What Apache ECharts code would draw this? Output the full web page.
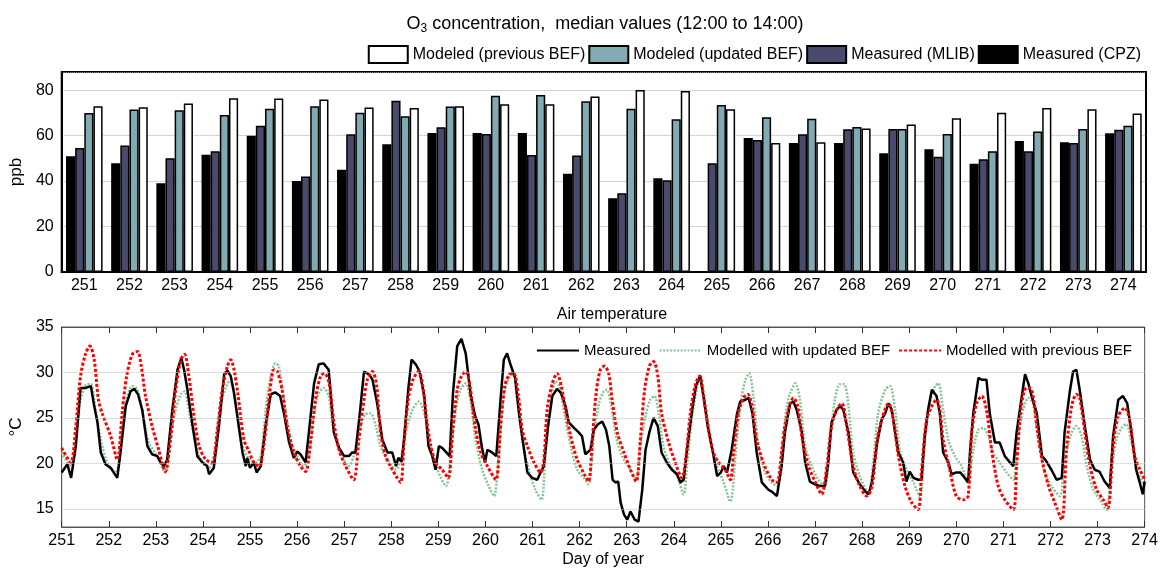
<!DOCTYPE html>
<html><head><meta charset="utf-8">
<script src="https://cdn.jsdelivr.net/npm/echarts@6/dist/echarts.min.js"></script>
<style>html,body{margin:0;padding:0;background:#fff}#c{width:1161px;height:569px}</style>
</head><body><div id="c"></div>
<script>
const days = ['251','252','253','254','255','256','257','258','259','260','261','262','263','264','265','266','267','268','269','270','271','272','273','274'];
const cpz = [50.9,47.9,39,51.6,60,40,45,56.2,61.2,61.2,61.2,43.2,32.5,41.2,null,59,56.8,56.8,52.2,54,47.6,57.6,57.1,61];
const mlib = [54.6,55.7,50.1,53.1,64.4,42,60.6,75.3,63.7,60.7,51.5,51.3,34.6,40.4,47.9,58.1,60.6,62.8,62.9,50.7,49.6,53.1,56.8,62.6];
const updatedBEF = [70,71.5,71.2,69.1,71.8,72.9,70.1,68.5,72.8,77.6,77.9,75.1,71.8,67.2,73.5,68.1,67.4,63.8,62.9,60.7,53.1,61.8,62.9,64.4];
const previousBEF = [72.9,72.5,74.1,76.5,76.3,75.9,72.4,72.2,72.9,73.8,73.8,77.2,80.1,79.6,71.6,56.8,57.1,63.1,64.9,67.6,70.1,72.2,71.6,69.7];
const tempGridValues = [15, 20, 25, 30];

const tMeasured = [[251.0,19.0],[251.12,19.9],[251.2,18.4],[251.3,21.9],[251.4,28.3],[251.51,28.3],[251.62,28.5],[251.69,26.3],[251.76,24.5],[251.83,21.2],[251.93,19.9],[252.04,19.5],[252.18,18.4],[252.24,20.8],[252.36,26.3],[252.46,27.9],[252.54,28.2],[252.62,27.6],[252.71,25.9],[252.82,21.9],[252.92,21.0],[253.03,20.8],[253.1,20.1],[253.17,19.7],[253.24,20.4],[253.35,25.9],[253.46,30.3],[253.54,31.6],[253.6,30.3],[253.67,28.1],[253.77,24.5],[253.88,20.8],[253.99,20.1],[254.09,19.7],[254.13,18.8],[254.23,19.5],[254.34,24.1],[254.45,29.8],[254.52,30.2],[254.59,29.6],[254.66,27.7],[254.73,25.2],[254.84,21.2],[254.91,19.7],[254.94,20.6],[255.0,19.5],[255.08,20.1],[255.14,19.0],[255.23,19.7],[255.33,24.1],[255.44,27.6],[255.54,27.8],[255.64,27.4],[255.72,25.5],[255.83,22.3],[255.93,20.6],[256.0,21.3],[256.07,21.0],[256.18,20.1],[256.25,23.4],[256.36,28.8],[256.46,30.9],[256.56,31.0],[256.67,30.3],[256.78,23.4],[256.89,21.7],[257.0,20.8],[257.1,20.8],[257.17,21.2],[257.24,21.2],[257.34,25.9],[257.42,30.1],[257.53,29.8],[257.6,29.2],[257.7,26.6],[257.81,22.6],[257.92,21.2],[258.02,21.2],[258.1,19.7],[258.15,20.6],[258.22,20.2],[258.27,22.6],[258.36,28.1],[258.43,31.4],[258.52,30.9],[258.6,30.1],[258.7,27.4],[258.79,21.9],[258.87,20.8],[258.94,19.3],[259.01,21.9],[259.08,21.7],[259.17,21.2],[259.24,20.8],[259.31,27.7],[259.4,32.9],[259.49,33.7],[259.58,32.1],[259.69,27.4],[259.78,25.2],[259.85,24.3],[259.92,21.9],[259.99,20.1],[260.04,21.5],[260.14,21.2],[260.23,20.8],[260.32,27.0],[260.39,31.4],[260.46,32.1],[260.53,30.9],[260.63,29.4],[260.72,25.2],[260.82,21.5],[260.89,19.0],[260.99,18.4],[261.1,18.2],[261.17,19.0],[261.24,19.7],[261.33,24.1],[261.42,27.4],[261.52,28.2],[261.61,27.7],[261.7,26.3],[261.77,24.5],[261.88,23.9],[261.98,23.4],[262.05,23.0],[262.12,21.0],[262.23,21.5],[262.3,23.7],[262.39,24.3],[262.48,24.6],[262.56,23.7],[262.63,21.9],[262.7,18.2],[262.76,17.9],[262.82,18.0],[262.87,15.7],[262.94,14.4],[263.01,13.8],[263.08,14.7],[263.17,13.8],[263.25,13.6],[263.33,17.1],[263.4,21.5],[263.48,23.4],[263.57,25.0],[263.66,24.1],[263.74,21.2],[263.85,20.1],[263.96,19.3],[264.07,18.8],[264.14,17.9],[264.21,18.2],[264.28,21.5],[264.39,25.9],[264.47,28.5],[264.56,29.6],[264.63,27.4],[264.72,24.1],[264.82,21.5],[264.92,18.6],[265.0,19.0],[265.06,19.7],[265.13,19.0],[265.23,21.5],[265.34,25.4],[265.41,26.8],[265.52,27.0],[265.59,27.2],[265.67,25.5],[265.76,21.2],[265.87,17.9],[266.01,17.1],[266.08,16.9],[266.19,16.4],[266.29,19.7],[266.36,23.4],[266.47,26.6],[266.54,26.8],[266.61,25.9],[266.72,23.4],[266.79,20.1],[266.89,18.0],[267.0,17.7],[267.11,17.5],[267.21,17.5],[267.28,20.1],[267.35,24.5],[267.46,25.9],[267.53,26.3],[267.6,25.9],[267.71,23.4],[267.81,19.0],[267.95,17.7],[268.07,16.9],[268.14,16.6],[268.21,18.0],[268.32,22.3],[268.42,24.9],[268.49,25.5],[268.56,26.6],[268.63,25.9],[268.7,23.4],[268.77,21.2],[268.87,20.1],[268.94,18.0],[269.01,19.1],[269.09,18.4],[269.19,18.2],[269.26,18.2],[269.33,23.0],[269.4,25.9],[269.48,28.1],[269.58,27.4],[269.65,25.5],[269.72,21.2],[269.83,20.1],[269.9,18.8],[270.0,19.0],[270.08,19.0],[270.15,18.6],[270.25,17.9],[270.29,21.2],[270.36,25.5],[270.47,29.4],[270.54,29.2],[270.64,29.2],[270.71,25.5],[270.82,22.3],[270.92,22.3],[271.03,20.8],[271.14,20.1],[271.21,19.7],[271.28,23.4],[271.38,27.0],[271.46,29.8],[271.53,28.8],[271.6,27.4],[271.71,25.5],[271.82,20.8],[271.89,20.4],[272.02,19.3],[272.13,18.2],[272.24,18.4],[272.3,23.4],[272.41,27.9],[272.48,30.1],[272.55,30.3],[272.62,28.1],[272.73,24.1],[272.84,20.4],[272.94,19.3],[273.04,19.1],[273.15,18.0],[273.26,17.3],[273.33,23.0],[273.44,27.0],[273.54,27.4],[273.63,26.6],[273.72,23.4],[273.82,19.3],[273.89,18.0],[273.96,16.6],[274.0,18.0]];

const tUpdated = [[251.0,21.2],[251.19,19.7],[251.3,22.6],[251.4,27.0],[251.54,28.7],[251.62,28.7],[251.72,25.9],[251.83,22.6],[251.97,20.1],[252.15,19.0],[252.25,22.6],[252.36,26.6],[252.5,28.5],[252.61,28.1],[252.71,25.9],[252.85,22.3],[253.03,20.8],[253.2,19.0],[253.31,22.6],[253.42,25.9],[253.53,27.6],[253.61,27.9],[253.7,25.9],[253.81,23.0],[253.95,20.4],[254.13,19.5],[254.23,20.8],[254.37,26.3],[254.52,28.8],[254.59,29.0],[254.66,28.1],[254.8,22.6],[254.94,20.8],[255.12,20.1],[255.23,20.8],[255.33,25.9],[255.44,29.6],[255.54,31.0],[255.61,30.7],[255.72,27.0],[255.86,22.6],[256.0,20.8],[256.14,19.7],[256.25,20.8],[256.36,25.5],[256.46,27.7],[256.56,28.3],[256.67,27.4],[256.78,23.4],[256.92,21.2],[257.1,19.7],[257.2,20.8],[257.31,23.4],[257.45,25.4],[257.56,25.5],[257.67,24.1],[257.77,21.9],[257.92,20.4],[258.1,19.3],[258.2,20.4],[258.31,23.4],[258.45,25.9],[258.59,26.8],[258.7,25.5],[258.84,21.9],[258.98,19.3],[259.16,17.5],[259.26,20.8],[259.37,25.9],[259.47,28.1],[259.58,28.8],[259.69,26.6],[259.79,22.6],[259.93,19.3],[260.07,17.5],[260.18,16.4],[260.29,21.5],[260.39,27.4],[260.5,29.4],[260.59,29.8],[260.67,27.0],[260.78,22.6],[260.92,19.3],[261.06,17.1],[261.19,16.0],[261.28,21.5],[261.38,26.3],[261.49,29.0],[261.57,28.5],[261.66,25.9],[261.81,21.9],[261.95,19.3],[262.09,18.4],[262.19,17.7],[262.3,23.0],[262.41,26.6],[262.51,27.9],[262.58,28.1],[262.67,26.3],[262.8,22.3],[262.94,20.4],[263.08,19.3],[263.2,18.2],[263.29,21.9],[263.4,25.2],[263.5,27.0],[263.59,27.4],[263.68,25.5],[263.78,21.9],[263.93,19.7],[264.07,18.6],[264.21,16.6],[264.28,19.7],[264.39,25.2],[264.49,28.3],[264.56,29.6],[264.67,26.3],[264.77,22.6],[264.92,19.7],[265.06,17.9],[265.2,15.8],[265.31,20.8],[265.41,26.3],[265.52,29.2],[265.6,29.9],[265.69,27.4],[265.8,21.9],[265.94,19.0],[266.08,17.9],[266.2,17.5],[266.29,21.5],[266.4,26.3],[266.47,27.7],[266.58,28.8],[266.68,27.0],[266.79,21.9],[266.93,19.7],[267.07,18.2],[267.21,17.5],[267.32,22.6],[267.42,27.0],[267.53,28.7],[267.62,28.7],[267.71,26.3],[267.81,21.2],[267.95,18.6],[268.13,16.8],[268.24,20.4],[268.34,25.5],[268.49,28.1],[268.59,28.5],[268.7,25.9],[268.8,21.5],[268.94,19.3],[269.09,17.9],[269.23,16.3],[269.33,22.3],[269.44,26.6],[269.55,28.5],[269.62,28.8],[269.72,25.9],[269.83,22.6],[269.97,20.8],[270.11,19.7],[270.25,17.9],[270.36,21.5],[270.47,23.7],[270.57,23.9],[270.68,23.0],[270.78,21.2],[270.92,20.1],[271.07,19.0],[271.21,18.2],[271.3,22.6],[271.42,25.9],[271.53,27.2],[271.63,26.6],[271.74,22.6],[271.88,19.0],[272.02,17.5],[272.2,16.4],[272.3,20.4],[272.45,23.4],[272.55,24.1],[272.66,23.0],[272.77,19.7],[272.91,17.1],[273.05,16.0],[273.19,14.9],[273.29,19.0],[273.4,22.6],[273.51,23.9],[273.61,24.3],[273.72,22.3],[273.86,19.0],[274.0,17.5]];

const tPrevious = [[251.0,21.7],[251.19,20.1],[251.3,24.1],[251.4,29.6],[251.51,32.1],[251.6,32.9],[251.69,31.4],[251.78,27.0],[251.86,25.5],[252.04,23.0],[252.18,20.4],[252.29,25.9],[252.38,29.6],[252.5,32.0],[252.61,32.3],[252.69,30.7],[252.78,27.4],[252.92,24.1],[253.06,21.5],[253.2,19.1],[253.31,22.6],[253.42,28.1],[253.53,31.4],[253.61,32.0],[253.7,29.6],[253.81,25.2],[253.92,21.9],[254.06,20.4],[254.2,20.1],[254.3,23.4],[254.41,28.1],[254.52,30.7],[254.59,31.4],[254.66,30.3],[254.74,27.7],[254.87,22.6],[254.98,21.3],[255.08,20.1],[255.19,19.7],[255.3,22.3],[255.4,27.0],[255.51,30.3],[255.58,30.1],[255.68,28.1],[255.79,24.1],[255.93,21.2],[256.07,19.7],[256.18,19.1],[256.29,22.6],[256.4,27.4],[256.5,29.6],[256.58,29.9],[256.68,28.8],[256.78,24.5],[256.89,21.5],[257.03,19.7],[257.2,18.2],[257.31,22.6],[257.42,27.0],[257.49,29.2],[257.6,30.1],[257.69,28.5],[257.77,23.4],[257.88,20.8],[257.99,19.6],[258.1,18.6],[258.2,17.9],[258.27,22.3],[258.36,27.0],[258.46,29.2],[258.58,30.1],[258.66,28.8],[258.75,24.8],[258.84,21.9],[258.94,20.1],[259.08,19.3],[259.21,18.4],[259.3,23.4],[259.4,28.1],[259.49,29.6],[259.58,30.1],[259.67,28.5],[259.78,24.1],[259.9,21.2],[260.04,19.7],[260.22,18.2],[260.31,23.4],[260.41,28.5],[260.51,29.8],[260.6,29.9],[260.7,27.4],[260.78,23.7],[260.89,21.9],[261.03,20.1],[261.17,19.0],[261.24,20.4],[261.31,25.9],[261.42,28.8],[261.52,29.9],[261.61,28.5],[261.7,25.9],[261.81,23.0],[261.95,20.4],[262.12,18.6],[262.19,18.0],[262.27,22.6],[262.35,27.7],[262.44,30.3],[262.53,30.7],[262.62,29.8],[262.69,27.0],[262.8,23.4],[262.94,21.2],[263.08,19.3],[263.2,18.0],[263.29,22.6],[263.38,28.1],[263.48,30.7],[263.57,31.2],[263.66,29.6],[263.74,25.5],[263.89,22.3],[264.03,20.1],[264.17,18.4],[264.26,20.8],[264.35,25.5],[264.46,28.7],[264.55,29.6],[264.63,27.4],[264.74,23.7],[264.84,21.2],[264.95,20.1],[265.09,19.3],[265.2,18.2],[265.27,21.2],[265.37,25.5],[265.48,27.2],[265.57,27.6],[265.66,26.3],[265.76,22.6],[265.9,20.1],[266.08,18.2],[266.19,17.9],[266.29,21.2],[266.36,24.1],[266.47,26.6],[266.54,27.2],[266.63,26.3],[266.73,22.6],[266.86,19.7],[267.0,18.0],[267.14,16.6],[267.25,19.7],[267.35,24.1],[267.46,25.9],[267.57,26.6],[267.67,24.1],[267.81,19.7],[267.95,17.5],[268.1,16.4],[268.21,17.5],[268.32,22.6],[268.42,24.9],[268.56,26.6],[268.66,24.9],[268.77,20.8],[268.91,17.5],[269.05,15.7],[269.19,14.9],[269.26,19.0],[269.37,24.9],[269.48,26.3],[269.58,27.0],[269.65,25.9],[269.72,22.6],[269.86,19.3],[270.0,16.4],[270.15,16.0],[270.25,16.4],[270.33,23.4],[270.43,26.6],[270.54,27.4],[270.64,25.9],[270.75,21.5],[270.89,17.5],[271.03,16.0],[271.21,14.9],[271.28,19.7],[271.38,26.3],[271.49,28.3],[271.6,28.1],[271.71,24.1],[271.82,20.4],[271.96,17.5],[272.09,15.7],[272.24,13.8],[272.34,21.5],[272.45,26.3],[272.55,27.6],[272.62,27.2],[272.73,23.4],[272.84,19.7],[272.98,17.1],[273.12,16.0],[273.22,15.1],[273.33,21.9],[273.44,25.2],[273.58,26.1],[273.68,24.8],[273.79,20.8],[273.9,19.3],[274.0,18.2]];

const F = 'Arial, "Liberation Sans", sans-serif';
const chart = echarts.init(document.getElementById('c'));
const barStyle = c => ({color: c, borderColor: '#000', borderWidth: 1.5});
chart.setOption({
  animation: false,
  textStyle: {fontFamily: F, color: '#000'},
  title: [
    {text: 'O{sub|3} concentration,  median values (12:00 to 14:00)', left: 600, textAlign: 'center', top: 8,
     textStyle: {fontSize: 18, fontWeight: 'normal', color: '#000', fontFamily: F,
       rich: {sub: {fontSize: 12, verticalAlign: 'bottom', padding: [10, 0, 0, 0], fontFamily: F}}}},
    {text: 'Air temperature', left: 607, textAlign: 'center', top: 302,
     textStyle: {fontSize: 16, fontWeight: 'normal', color: '#000', fontFamily: F}}
  ],
  legend: [
    {right: 15, top: 40, itemWidth: 39, itemHeight: 17, itemGap: 3, icon: 'rect',
     textStyle: {fontSize: 16, fontFamily: F, color: '#000'},
     data: ['Modeled (previous BEF)', 'Modeled (updated BEF)', 'Measured (MLIB)', 'Measured (CPZ)']},
    {right: 24, top: 338, itemWidth: 42, itemHeight: 10, itemGap: 8,
     itemStyle: {opacity: 0},
     textStyle: {fontSize: 15, fontFamily: F, color: '#000'},
     data: ['Measured', 'Modelled with updated BEF', 'Modelled with previous BEF']}
  ],
  grid: [
    {left: 61, right: 15, top: 72, bottom: 297, show: true, borderColor: '#000', borderWidth: 2},
    {left: 61, right: 14, top: 327, bottom: 42, show: true, borderColor: '#555', borderWidth: 1}
  ],
  xAxis: [
    {type: 'category', gridIndex: 0, data: days, axisTick: {show: false},
     axisLine: {lineStyle: {color: '#000', width: 2}},
     axisLabel: {fontSize: 16, color: '#000', margin: 6, fontFamily: F}},
    {type: 'value', gridIndex: 1, min: 251, max: 274, interval: 1,
     name: 'Day of year', nameLocation: 'middle', nameGap: 25, nameTextStyle: {fontSize: 16, color: '#000', fontFamily: F},
     axisLine: {lineStyle: {color: '#555'}}, axisTick: {inside: true, length: 6, lineStyle: {color: '#333'}},
     splitLine: {show: false}, axisLabel: {fontSize: 16, color: '#000', margin: 6, fontFamily: F}},
    {type: 'value', gridIndex: 1, position: 'top', min: 251, max: 274, interval: 1,
     axisLine: {lineStyle: {color: '#555'}}, axisTick: {inside: true, length: 6, lineStyle: {color: '#333'}},
     splitLine: {show: false}, axisLabel: {show: false}}
  ],
  yAxis: [
    {type: 'value', gridIndex: 0, min: 0, max: 88, interval: 20,
     name: 'ppb', nameLocation: 'middle', nameGap: 27, nameTextStyle: {fontSize: 17, color: '#000', fontFamily: F},
     axisLine: {show: true, lineStyle: {color: '#000', width: 2}}, axisTick: {show: false},
     axisLabel: {fontSize: 16, color: '#000', margin: 8, fontFamily: F, showMaxLabel: false,
       formatter: v => (v % 20 === 0 ? v : '')},
     splitLine: {lineStyle: {color: '#aaa', type: 'dotted'}}},
    {type: 'value', gridIndex: 1, min: 13, max: 35, interval: 1,
     name: '°C', nameLocation: 'middle', nameGap: 28, nameTextStyle: {fontSize: 17, color: '#000', fontFamily: F},
     axisLine: {show: true, lineStyle: {color: '#555'}}, axisTick: {show: false},
     axisLabel: {fontSize: 16, color: '#000', margin: 8, fontFamily: F,
       formatter: v => (v % 5 === 0 ? v : '')},
     splitLine: {show: false}}
  ],
  series: [
    {name: 'Measured (CPZ)', type: 'bar', xAxisIndex: 0, yAxisIndex: 0, data: cpz, itemStyle: barStyle('#000000'), barGap: '0%', barCategoryGap: '19%'},
    {name: 'Measured (MLIB)', type: 'bar', xAxisIndex: 0, yAxisIndex: 0, data: mlib, itemStyle: barStyle('#4a4a6c')},
    {name: 'Modeled (updated BEF)', type: 'bar', xAxisIndex: 0, yAxisIndex: 0, data: updatedBEF, itemStyle: barStyle('#82aab2')},
    {name: 'Modeled (previous BEF)', type: 'bar', xAxisIndex: 0, yAxisIndex: 0, data: previousBEF, itemStyle: barStyle('#ffffff')},
    {name: 'Modelled with updated BEF', type: 'line', xAxisIndex: 1, yAxisIndex: 1, data: tUpdated, symbol: 'none', smooth: 0.3,
     lineStyle: {color: '#86c495', width: 2.5, type: [2, 1.5]}, itemStyle: {color: '#86c495'},
     markLine: {silent: true, symbol: 'none', label: {show: false}, animation: false,
       lineStyle: {color: '#bbb', type: 'dotted', width: 1},
       data: tempGridValues.map(v => ({yAxis: v}))}},
    {name: 'Measured', type: 'line', xAxisIndex: 1, yAxisIndex: 1, data: tMeasured, symbol: 'none',
     lineStyle: {color: '#000', width: 2.5}, itemStyle: {color: '#000'}},
    {name: 'Modelled with previous BEF', type: 'line', xAxisIndex: 1, yAxisIndex: 1, data: tPrevious, symbol: 'none', smooth: 0.3,
     lineStyle: {color: '#ff0000', width: 3, type: [3, 2]}, itemStyle: {color: '#ff0000'}}
  ]
});
</script></body></html>
